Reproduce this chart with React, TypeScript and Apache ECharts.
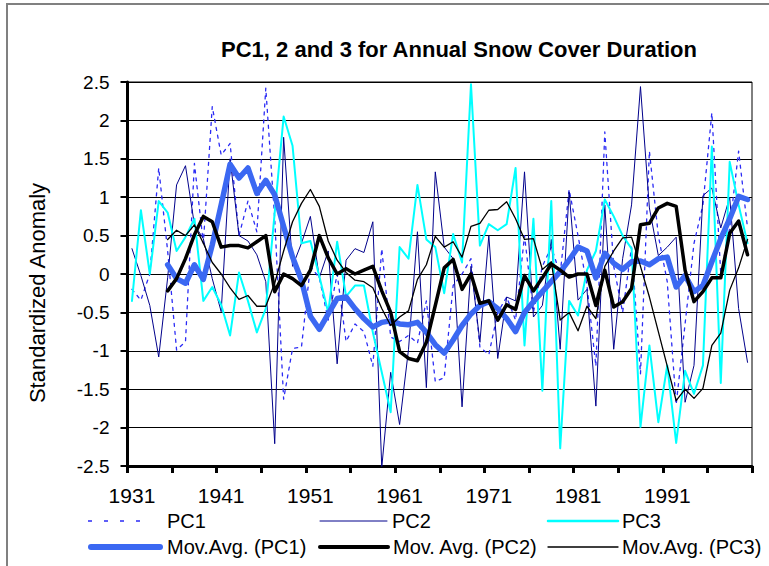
import React, { useEffect, useRef } from "react";
import * as echarts from "echarts";

const years: string[] = [];
for (let y = 1931; y <= 2000; y++) years.push(String(y));

const pc1 = [-0.2,-0.34,0.0,1.38,0.3,-0.99,-0.88,1.44,0.4,2.18,
  1.55,1.7,0.5,0.95,0.55,2.42,0.72,-1.63,-0.97,-0.95,
  0.1,-0.05,-0.6,0.0,-0.88,-0.65,-0.75,-1.2,0.33,-0.82,
  -0.88,-0.8,-0.9,-0.35,-1.4,-1.35,-0.15,0.0,0.2,-0.95,
  -1.05,-0.5,-0.3,-0.6,0.5,-0.5,0.1,0.35,0.0,1.1,
  0.5,-0.15,-1.2,1.85,0.1,-0.5,0.35,-1.3,1.6,0.5,
  -0.1,-1.7,-0.65,0.4,0.9,2.1,0.0,0.6,1.6,0.6];

const pc2 = [0.33,-0.02,-0.41,-1.08,-0.05,1.16,1.41,0.64,0.46,-0.06,
  -0.49,1.5,0.5,0.43,0.25,-0.1,-2.21,1.78,0.1,0.4,
  0.75,-0.05,0.3,-1.17,0.18,0.33,0.28,0.68,-2.52,-1.28,
  -1.96,-0.98,0.55,-1.48,1.33,0.35,0.2,-1.73,0.1,-0.89,
  0.5,-1.1,-0.3,-0.35,1.33,-0.56,-0.41,0.45,-0.98,1.07,
  -0.34,-0.2,-1.72,0.9,-0.98,0.2,0.9,2.44,0.86,0.24,
  0.35,0.48,-1.67,-1.19,1.02,1.12,0.6,1.0,-0.45,-1.15];

const pc3 = [-0.35,0.83,0.0,0.95,0.8,0.3,0.48,0.72,-0.35,-0.17,
  -0.4,-0.8,0.02,-0.35,-0.76,-0.45,0.8,2.05,1.67,0.4,
  0.43,-0.03,-0.5,0.42,-0.29,-0.15,-0.15,-0.76,-1.28,-1.8,
  0.35,0.2,1.16,0.45,0.35,-0.25,0.52,0.15,2.47,0.37,
  0.65,0.57,0.65,1.38,-0.93,0.72,-1.52,0.95,-2.27,-0.35,
  -0.54,0.05,0.3,0.97,0.75,0.5,0.33,-1.99,-0.93,-1.93,
  -1.19,-2.2,-1.26,-1.56,-1.19,1.66,-1.42,1.46,0.9,0.4];

const ma1 = [null,null,null,null,0.12,-0.06,-0.12,0.12,-0.07,0.38,
  0.9,1.43,1.25,1.38,1.05,1.22,1.03,0.62,0.22,-0.08,
  -0.55,-0.72,-0.52,-0.32,-0.3,-0.45,-0.58,-0.69,-0.63,-0.61,
  -0.65,-0.66,-0.63,-0.76,-0.92,-1.03,-0.86,-0.67,-0.52,-0.41,
  -0.36,-0.45,-0.58,-0.75,-0.5,-0.36,-0.23,-0.1,0.03,0.18,
  0.35,0.3,-0.05,0.27,0.14,0.06,0.16,0.17,0.12,0.2,
  0.22,-0.17,-0.02,-0.23,-0.15,0.16,0.46,0.72,1.01,0.97];

const ma2 = [null,null,null,null,-0.22,-0.06,0.2,0.51,0.75,0.68,
  0.35,0.37,0.37,0.34,0.42,0.5,-0.23,0.0,-0.06,-0.15,
  0.05,0.5,0.21,0.0,0.07,0.0,0.05,0.1,-0.22,-0.5,
  -1.01,-1.1,-1.13,-0.89,-0.41,0.08,0.19,-0.2,0.0,-0.38,
  -0.35,-0.6,-0.4,-0.46,-0.02,-0.22,-0.05,0.13,0.05,-0.04,
  0.0,0.0,-0.41,0.05,-0.43,-0.36,-0.19,0.64,0.66,0.86,
  0.92,0.88,0.05,-0.36,-0.23,-0.05,-0.05,0.53,0.69,0.25];

const ma3 = [null,null,null,null,0.45,0.57,0.5,0.64,0.4,0.15,
  0.0,-0.18,-0.33,-0.28,-0.42,-0.42,-0.12,0.3,0.68,0.92,
  1.1,0.88,0.43,0.18,0.02,-0.08,-0.1,-0.18,-0.45,-0.67,
  -0.56,-0.48,-0.07,0.12,0.49,0.35,0.42,0.22,0.62,0.66,
  0.83,0.84,0.94,0.72,0.45,0.46,0.06,0.16,-0.6,-0.5,
  -0.74,-0.42,-0.58,0.1,0.3,0.47,0.48,0.1,-0.3,-0.75,
  -1.2,-1.65,-1.5,-1.62,-1.49,-0.93,-0.77,-0.21,0.08,0.45];

const FONT = "'Liberation Sans', Arial, sans-serif";

const C_PC1 = "#2b2bf5";
const C_PC2 = "#00008b";
const C_PC3 = "#00ffff";
const C_MA1 = "#3b68f2";
const C_MA2 = "#000000";
const C_MA3 = "#000000";

export default function App() {
  const ref = useRef<HTMLDivElement>(null);
  useEffect(() => {
    if (!ref.current) return;
    const chart = echarts.init(ref.current, undefined, { renderer: "svg" });
    const line = (name: string, data: any[], color: string, width: number, type: any = "solid", z = 2) => ({
      name, type: "line", data, symbol: "none", showSymbol: false, connectNulls: false,
      lineStyle: { color, width, type, cap: "round", join: "round" }, itemStyle: { color }, z,
    });
    const legItem = (label: string, x1: number, x2: number, tx: number, y: number, stroke: string, lw: number, dash?: number[]) => [
      {
        type: "line", shape: { x1, y1: y, x2, y2: y }, silent: true,
        style: { stroke, lineWidth: lw, lineDash: dash, lineCap: dash ? "butt" : "round" },
      },
      {
        type: "text", x: tx, y, silent: true,
        style: { text: label, fontSize: 20, fill: "#000", fontFamily: FONT, textVerticalAlign: "middle" },
      },
    ];
    chart.setOption({
      animation: false,
      backgroundColor: "#fff",
      title: {
        text: "PC1, 2 and 3 for Annual Snow Cover Duration",
        left: 454, top: 33, textAlign: "center",
        textStyle: { fontSize: 22, fontWeight: "bold", color: "#000", fontFamily: FONT },
      },
      grid: {
        left: 127.5, top: 82, width: 624.5, height: 384,
        containLabel: false, outerBoundsMode: "none",
        show: true, borderColor: "#000", borderWidth: 1, backgroundColor: "transparent",
      },
      xAxis: {
        type: "category", data: years, boundaryGap: true,
        axisLine: { onZero: false, lineStyle: { color: "#000", width: 3 } },
        axisTick: { show: true, interval: 4, length: 7, lineStyle: { color: "#000", width: 3 } },
        axisLabel: { interval: 9, fontSize: 21, color: "#000", fontFamily: FONT, margin: 19 },
        splitLine: { show: false },
      },
      yAxis: {
        type: "value", min: -2.5, max: 2.5, interval: 0.5,
        axisLine: { show: true, onZero: false, lineStyle: { color: "#000", width: 3 } },
        axisTick: { show: true, length: 7, lineStyle: { color: "#000", width: 2 } },
        axisLabel: { fontSize: 19, color: "#000", fontFamily: FONT, margin: 18 },
        splitLine: { show: true, lineStyle: { color: "#000", width: 1 } },
      },
      graphic: [
        { type: "rect", shape: { x: 7, y: 4, width: 800, height: 600 }, style: { fill: "none", stroke: "#808080", lineWidth: 2 }, silent: true, z: -10 },
        {
          type: "text", x: 37, y: 293, rotation: Math.PI / 2, silent: true,
          style: { text: "Standardized Anomaly", fontSize: 22, fill: "#000", fontFamily: FONT, textAlign: "center", textVerticalAlign: "middle" },
        },
        ...legItem("PC1", 88, 152, 167, 521, C_PC1, 1.3, [4, 12]),
        ...legItem("PC2", 320, 387, 392, 521, C_PC2, 1),
        ...legItem("PC3", 548, 618, 622, 521, C_PC3, 2.5),
        ...legItem("Mov.Avg. (PC1)", 91, 160, 167, 547, C_MA1, 6),
        ...legItem("Mov. Avg. (PC2)", 320, 388, 393, 547, C_MA2, 4),
        ...legItem("Mov.Avg. (PC3)", 548, 618, 622, 547, C_MA3, 1.3),
      ],
      series: [
        line("PC1", pc1, C_PC1, 1.3, [3, 5]),
        line("PC2", pc2, C_PC2, 1),
        line("PC3", pc3, C_PC3, 2),
        line("Mov.Avg. (PC1)", ma1, C_MA1, 5.5, "solid", 3),
        line("Mov. Avg. (PC2)", ma2, C_MA2, 3.5, "solid", 4),
        line("Mov.Avg. (PC3)", ma3, C_MA3, 1.3, "solid", 5),
      ],
    });
    return () => chart.dispose();
  }, []);
  return <div ref={ref} style={{ position: "fixed", left: 0, top: 0, width: 769, height: 566 }} />;
}
